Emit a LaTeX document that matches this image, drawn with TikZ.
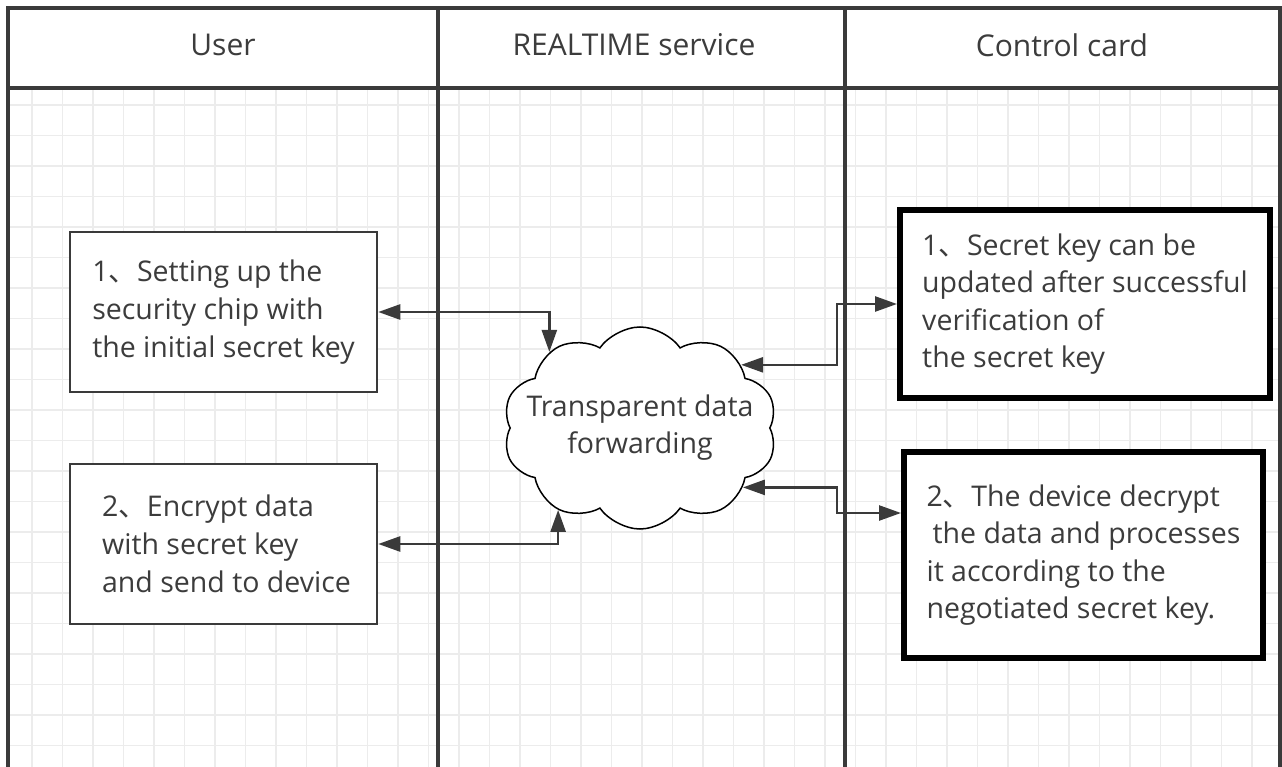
\documentclass[tikz,border=0pt]{standalone}
\usepackage{fontspec}
\setmainfont{Open Sans}
\newfontfamily\cjk{Noto Sans CJK SC}
\usetikzlibrary{shapes.symbols,arrows.meta,positioning}
\definecolor{lanegray}{HTML}{3A3A3A}
\definecolor{textgray}{HTML}{3C3C3C}
\definecolor{gridgray}{HTML}{ECECEC}
\tikzstyle{lane title}=[
        text = textgray,
        font = \fontsize{30}{38}\selectfont
    ]
\tikzstyle{user box}=[
        draw = lanegray,
        line width = 2.5pt,
        fill = white,
        inner sep = 0pt,
        minimum width = 307pt,
        minimum height = 160pt,
        align = left,
        text = textgray,
        font = \fontsize{28.5}{38}\selectfont
    ]
\tikzstyle{card box}=[
        draw = black,
        line width = 6pt,
        fill = white,
        inner sep = 0pt,
        align = left,
        text = textgray,
        font = \fontsize{28.5}{37.5}\selectfont
    ]
\newcommand{\dun}{{\cjk 、}}

\begin{document}
\begin{tikzpicture}[x=1pt, y=-1pt, arr/.style = {{Triangle[length=22pt,width=15pt]}-{Triangle[length=22pt,width=15pt]}, line width=2.5pt, draw=lanegray}]
        \useasboundingbox[fill=white] (0,0) rectangle (1282,767);
        \begin{scope}
            \clip (8,88) rectangle (1280,767);
            \foreach \gx in {0,...,41} \draw[gridgray, line width=1.2pt] (32+30.5*\gx,88) -- (32+30.5*\gx,767);
            \foreach \gy in {0,...,22} \draw[gridgray, line width=1.2pt] (8,105+30.5*\gy) -- (1280,105+30.5*\gy);
        \end{scope}
        \draw[lanegray, line width=3.5pt] (8,767) -- (8,8) -- (1280,8) -- (1280,767);
        \draw[lanegray, line width=3.5pt] (8,88) -- (1280,88);
        \draw[lanegray, line width=3.5pt] (438,8) -- (438,767);
        \draw[lanegray, line width=3.5pt] (845,8) -- (845,767);

        \node[lane title] (user) at (223,45) {User};
        \node[lane title] (realtime) at (634,45) {REALTIME service};
        \node[lane title] (card) at (1062,45) {Control card};

        \node[user box] (u1) at (223.5,312) {1\dun Setting up the\\security chip with\\the initial secret key};
        \node[user box] (u2) at (223.5,544) {\hspace{6pt}2\dun Encrypt data\\\hspace{6pt}with secret key\\\hspace{6pt}and send to device};
        \node[card box, minimum width=370pt, minimum height=188pt] (c1) at (1085,304) {1\dun Secret key can be\\updated after successful\\verification of\\the secret key};
        \node[card box, minimum width=359pt, minimum height=206pt] (c2) at (1083.5,555) {2\dun The device decrypt\\\hspace{6pt}the data and processes\\it according to the\\negotiated secret key.};

        \node[cloud, cloud puffs=10, cloud puff arc=110, draw=black, line width=1.5pt, fill=white, minimum width=274pt, minimum height=202pt, label={[align=center, text=textgray, font=\fontsize{28.5}{37}\selectfont]center:Transparent data\\forwarding}] (fwd) at (640,428) {};
        \coordinate (cbend) at (837,0);

        \draw[arr] (u1.east) -| (fwd.140);
        \draw[arr] (u2.east) -| (fwd.-135);
        \draw[arr] (fwd.32) -- (fwd.32 -| cbend) |- (c1.west);
        \draw[arr] (fwd.-30) -- (fwd.-30 -| cbend) |- ([yshift=42pt]c2.west);
    \end{tikzpicture}
\end{document}
